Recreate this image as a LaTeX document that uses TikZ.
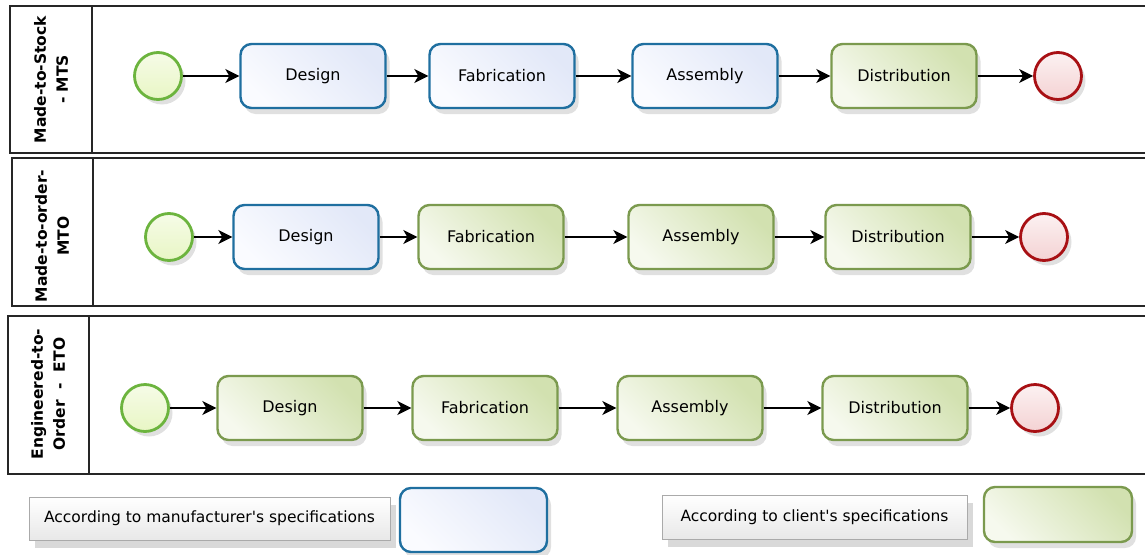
\documentclass[tikz,border=0pt]{standalone}
\usepackage{fontspec}
\setmainfont{DejaVu Sans}
\usetikzlibrary{arrows.meta,shadows}
\definecolor{mfrline}{RGB}{31,111,160}
\definecolor{mfrtop}{RGB}{250,251,255}
\definecolor{mfrbot}{RGB}{226,232,248}
\definecolor{cliline}{RGB}{123,154,78}
\definecolor{clitop}{RGB}{246,249,238}
\definecolor{clibot}{RGB}{210,225,176}
\definecolor{startline}{RGB}{108,180,62}
\definecolor{startfill}{RGB}{232,246,196}
\definecolor{endline}{RGB}{168,16,20}
\definecolor{endfill}{RGB}{244,210,211}
\definecolor{legline}{RGB}{170,170,170}

\tikzset{
  tasknode/.style={rounded corners=11pt, line width=2.4pt, minimum width=145pt,
    minimum height=64pt, font=\fontsize{16}{18}\selectfont,
    drop shadow={shadow xshift=4pt, shadow yshift=-6pt, fill=black, opacity=0.12}},
  mfrtask/.style={tasknode, draw=mfrline, shading=axis, left color=mfrtop,
    right color=mfrbot, shading angle=135},
  clitask/.style={tasknode, draw=cliline, shading=axis, left color=clitop,
    right color=clibot, shading angle=135},
  startev/.style={circle, minimum size=47pt, line width=2.8pt, draw=startline,
    top color=white!60!startfill, bottom color=startfill,
    drop shadow={shadow xshift=4pt, shadow yshift=-5pt, fill=black, opacity=0.12}},
  endev/.style={circle, minimum size=47pt, line width=2.8pt, draw=endline,
    top color=white!70!endfill, bottom color=endfill,
    drop shadow={shadow xshift=4pt, shadow yshift=-5pt, fill=black, opacity=0.12}},
  flow/.style={line width=1.3pt, -{Stealth[length=14pt, width=14pt, inset=4pt]}},
  lanebox/.style={line width=1.6pt, draw=black!85},
  lanehead/.style={rotate=90, align=center, font=\fontsize{15.5}{22}\selectfont\bfseries},
  legtext/.style={draw=legline, line width=0.8pt, minimum width=361pt, minimum height=43pt,
    top color=white, bottom color=black!9, font=\fontsize{15.5}{18}\selectfont,
    drop shadow={shadow xshift=6pt, shadow yshift=-8pt, fill=black, opacity=0.15}}
}

\begin{document}
\begin{tikzpicture}[x=1pt, y=-1pt]
  \useasboundingbox (0,0) rectangle (1145,554);

  %Lanes
  \draw[lanebox] (1150,6) -- (10,6) -- (10,153) -- (1150,153);
  \draw[lanebox] (92,6) -- (92,153);
  \draw[lanebox] (1150,158) -- (12,158) -- (12,306) -- (1150,306);
  \draw[lanebox] (93,158) -- (93,306);
  \draw[lanebox] (1150,316) -- (8,316) -- (8,474) -- (1150,474);
  \draw[lanebox] (89,316) -- (89,474);

  \node[lanehead] (h1) at (51,79.5) {Made-to-Stock\\ - MTS};
  \node[lanehead] (h2) at (52,236) {Made-to-order-\\MTO};
  \node[lanehead] (h3) at (48,394) {Engineered-to-\\Order~~-~~ETO};

  %Made-to-Stock
  \node[startev] (s1) at (158,76) {};
  \node[mfrtask] (d1) at (313,76) {Design};
  \node[mfrtask] (f1) at (502,76) {Fabrication};
  \node[mfrtask] (a1) at (705,76) {Assembly};
  \node[clitask] (t1) at (904,76) {Distribution};
  \node[endev] (e1) at (1058,76) {};
  \draw[flow] (s1) -- (d1);
  \draw[flow] (d1) -- (f1);
  \draw[flow] (f1) -- (a1);
  \draw[flow] (a1) -- (t1);
  \draw[flow] (t1) -- (e1);

  %Made-to-order
  \node[startev] (s2) at (169,237) {};
  \node[mfrtask] (d2) at (306,237) {Design};
  \node[clitask] (f2) at (491,237) {Fabrication};
  \node[clitask] (a2) at (701,237) {Assembly};
  \node[clitask] (t2) at (898,237) {Distribution};
  \node[endev] (e2) at (1044,237) {};
  \draw[flow] (s2) -- (d2);
  \draw[flow] (d2) -- (f2);
  \draw[flow] (f2) -- (a2);
  \draw[flow] (a2) -- (t2);
  \draw[flow] (t2) -- (e2);

  %Engineered-to-order
  \node[startev] (s3) at (145,408) {};
  \node[clitask] (d3) at (290,408) {Design};
  \node[clitask] (f3) at (485,408) {Fabrication};
  \node[clitask] (a3) at (690,408) {Assembly};
  \node[clitask] (t3) at (895,408) {Distribution};
  \node[endev] (e3) at (1035,408) {};
  \draw[flow] (s3) -- (d3);
  \draw[flow] (d3) -- (f3);
  \draw[flow] (f3) -- (a3);
  \draw[flow] (a3) -- (t3);
  \draw[flow] (t3) -- (e3);

  %Legend
  \node[legtext] (lg1) at (209.5,518.5) {According to manufacturer\textquotesingle s specifications};
  \node[mfrtask, minimum width=147pt, minimum height=64pt] (lgb) at (473.5,520) {};
  \node[legtext, minimum width=305pt, minimum height=44pt] (lg2) at (814.5,517) {According to client\textquotesingle s specifications};
  \node[clitask, minimum width=148pt, minimum height=55pt] (lgg) at (1058,514.5) {};
\end{tikzpicture}
\end{document}
